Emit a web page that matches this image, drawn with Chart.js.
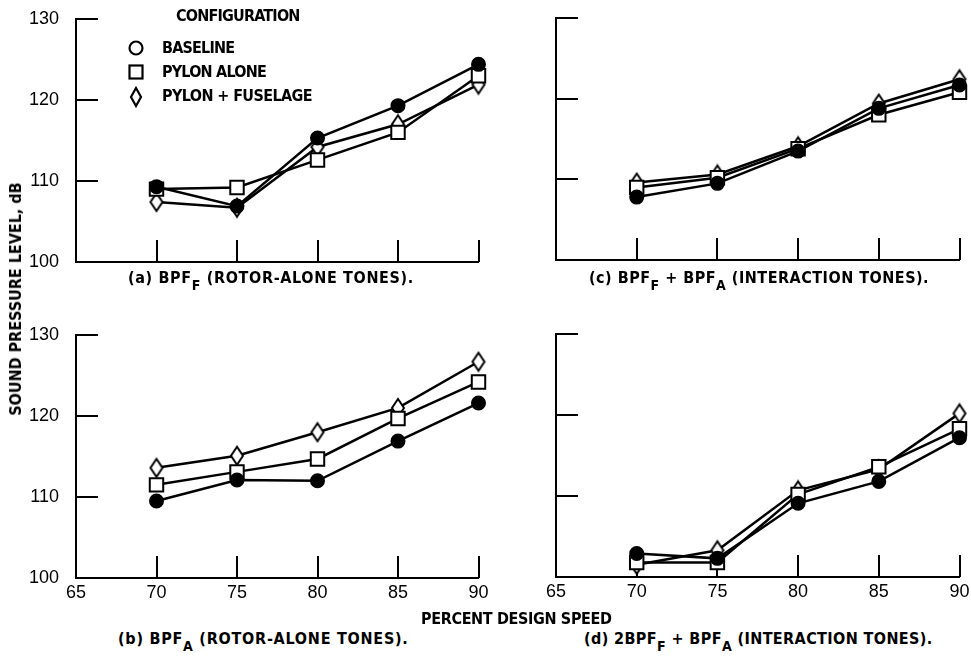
<!DOCTYPE html>
<html>
<head>
<meta charset="utf-8">
<script src="https://cdn.jsdelivr.net/npm/chart.js@4.4.0/dist/chart.umd.min.js"></script>
<style>
  body { margin: 0; background: #fff; }
  #page { position: relative; width: 971px; height: 666px; overflow: hidden; background: #fff; color: #000;
          font-family: 'DejaVu Sans Condensed', sans-serif; font-weight: bold; }
  #page canvas { position: absolute; }
  .lbl { position: absolute; font-size: 16px; line-height: 16px; white-space: nowrap; }
  .lbl sub { font-size: 14px; vertical-align: -7px; line-height: 0; }
  .key { letter-spacing: -0.8px; }
  .cap { letter-spacing: 0.65px; }
  #ytitle { left: 16px; top: 299px; transform: translate(-50%, -50%) rotate(-90deg); }
</style>
</head>
<body>
<div id="page">
  <canvas id="panelA" width="490" height="300" style="left:0;top:0"></canvas>
  <canvas id="panelC" width="481" height="300" style="left:490px;top:0"></canvas>
  <canvas id="panelB" width="490" height="320" style="left:0;top:300px"></canvas>
  <canvas id="panelD" width="481" height="320" style="left:490px;top:300px"></canvas>

  <div class="lbl key" style="left:176px;top:8px">CONFIGURATION</div>
  <svg style="position:absolute;left:126px;top:36px" width="22" height="74">
    <circle cx="10" cy="12" r="6.5" fill="none" stroke="#000" stroke-width="2.2"/>
    <rect x="3.5" y="29.5" width="13" height="13" fill="none" stroke="#000" stroke-width="2.2"/>
    <path d="M10 52 L15 61 L10 70 L5 61 Z" fill="none" stroke="#000" stroke-width="2.2" stroke-linejoin="miter"/>
  </svg>
  <div class="lbl key" style="left:162px;top:40px">BASELINE</div>
  <div class="lbl key" style="left:162px;top:64px">PYLON ALONE</div>
  <div class="lbl key" style="left:162px;top:88px;letter-spacing:-0.6px">PYLON + FUSELAGE</div>

  <div class="lbl cap" style="left:128px;top:270px">(a) BPF<sub>F</sub> (ROTOR-ALONE TONES).</div>
  <div class="lbl cap" style="left:589px;top:270px;letter-spacing:0.5px">(c) BPF<sub>F</sub> + BPF<sub>A</sub> (INTERACTION TONES).</div>
  <div class="lbl" style="left:421px;top:611px;letter-spacing:-0.35px">PERCENT DESIGN SPEED</div>
  <div class="lbl cap" style="left:118px;top:631px;letter-spacing:0.75px">(b) BPF<sub>A</sub> (ROTOR-ALONE TONES).</div>
  <div class="lbl cap" style="left:584px;top:631px;letter-spacing:0.4px">(d) 2BPF<sub>F</sub> + BPF<sub>A</sub> (INTERACTION TONES).</div>
  <div class="lbl" id="ytitle">SOUND PRESSURE LEVEL, dB</div>
</div>

<script>
// percent design speed, and the dB grid
const speeds = [70, 75, 80, 85, 90];
const yTicks = [100, 110, 120, 130];

// (a) BPF_F, rotor-alone tones
const bpfFBaseline = [109.3, 106.9, 115.3, 119.3, 124.4];
const bpfFPylon = [109.0, 109.2, 112.6, 116.0, 123.0];
const bpfFFuselage = [107.4, 106.7, 114.2, 117.0, 121.9];

// (b) BPF_A, rotor-alone tones
const bpfABaseline = [109.5, 112.1, 112.0, 116.9, 121.6];
const bpfAPylon = [111.5, 113.1, 114.7, 119.7, 124.2];
const bpfAFuselage = [113.6, 115.1, 118.0, 121.0, 126.7];

// (c) BPF_F + BPF_A, interaction tones
const sumBaseline = [107.8, 109.5, 113.5, 118.8, 121.7];
const sumPylon = [109.0, 110.2, 113.8, 118.0, 120.8];
const sumFuselage = [109.6, 110.6, 114.1, 119.4, 122.4];

// (d) 2BPF_F + BPF_A, interaction tones
const dblBaseline = [102.9, 102.3, 109.1, 111.8, 117.2];
const dblPylon = [101.8, 101.8, 110.2, 113.6, 118.3];
const dblFuselage = [101.5, 103.3, 110.7, 113.3, 120.2];

const tickFont = { family: "'Liberation Sans', Arial, sans-serif", size: 18 };

// tall open diamond for the pylon + fuselage configuration
function diamondMarker() {
  const c = document.createElement('canvas');
  c.width = 16; c.height = 22;
  const g = c.getContext('2d');
  g.beginPath();
  g.moveTo(8, 2); g.lineTo(14, 11); g.lineTo(8, 20); g.lineTo(2, 11); g.closePath();
  g.fillStyle = '#fff'; g.fill();
  g.lineWidth = 2; g.strokeStyle = '#000'; g.stroke();
  return c;
}
const diamond = diamondMarker();

// tick marks point into the plot from the left and bottom axes
const inwardTicks = {
  id: 'inwardTicks',
  beforeDatasetsDraw(chart) {
    const { ctx, chartArea: a, scales: { x, y } } = chart;
    ctx.save();
    ctx.strokeStyle = '#000';
    ctx.lineWidth = 2;
    ctx.beginPath();
    yTicks.slice(1).forEach(v => {
      const py = Math.round(y.getPixelForValue(v));
      ctx.moveTo(a.left, py); ctx.lineTo(a.left + 22, py);
    });
    speeds.forEach(v => {
      const px = Math.round(x.getPixelForValue(v));
      ctx.moveTo(px, a.bottom); ctx.lineTo(px, a.bottom - 22);
    });
    ctx.stroke();
    ctx.restore();
  }
};

function series(values) {
  return values.map((v, i) => ({ x: speeds[i], y: v }));
}

function makePanel(id, base, pylon, fuselage, p) {
  const line = { borderColor: '#000', borderWidth: 2.5, pointBorderColor: '#000', pointBorderWidth: 2, clip: false };
  return new Chart(document.getElementById(id), {
    type: 'line',
    data: {
      datasets: [
        Object.assign({ label: 'BASELINE', data: series(base), pointStyle: 'circle', pointRadius: 6.5, pointBackgroundColor: '#000' }, line),
        Object.assign({ label: 'PYLON ALONE', data: series(pylon), pointStyle: 'rect', pointRadius: 9.5, pointBackgroundColor: '#fff' }, line),
        Object.assign({ label: 'PYLON + FUSELAGE', data: series(fuselage), pointStyle: diamond, pointBackgroundColor: '#fff' }, line)
      ]
    },
    options: {
      responsive: false,
      animation: false,
      events: [],
      layout: { padding: { top: p.top, right: p.right, left: 0, bottom: 0 } },
      plugins: { legend: { display: false }, tooltip: { enabled: false } },
      scales: {
        x: {
          type: 'linear', min: 65, max: 90,
          ticks: { stepSize: 5, display: p.xLabels, color: '#000', font: tickFont, padding: -4, maxRotation: 0 },
          grid: { display: false },
          border: { display: true, color: '#000', width: 2 },
          afterFit: s => { s.height = p.xHeight; s.paddingLeft = 0; s.paddingRight = 0; }
        },
        y: {
          min: 100, max: 130,
          ticks: { stepSize: 10, display: p.yLabels, color: '#000', font: tickFont, padding: 9 },
          grid: { display: false },
          border: { display: true, color: '#000', width: 2 },
          afterFit: s => { s.width = p.left; s.paddingTop = 0; s.paddingBottom = 0; }
        }
      }
    },
    plugins: [inwardTicks]
  });
}

makePanel('panelA', bpfFBaseline, bpfFPylon, bpfFFuselage, { top: 19, right: 10, left: 76, xHeight: 38, xLabels: false, yLabels: true });
makePanel('panelC', sumBaseline, sumPylon, sumFuselage, { top: 18, right: 10, left: 66, xHeight: 40, xLabels: false, yLabels: false });
makePanel('panelB', bpfABaseline, bpfAPylon, bpfAFuselage, { top: 35, right: 9, left: 76, xHeight: 42, xLabels: true, yLabels: true });
makePanel('panelD', dblBaseline, dblPylon, dblFuselage, { top: 34, right: 10, left: 66, xHeight: 43, xLabels: true, yLabels: false });
</script>
</body>
</html>
